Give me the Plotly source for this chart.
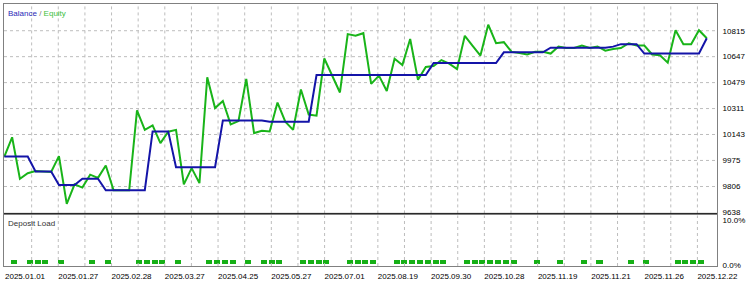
import plotly.graph_objects as go

# ---- data ----
equity = [10000, 10125, 9856, 9892, 9906, 9904, 9900, 10003, 9694, 9820,
          9799, 9883, 9862, 9942, 9782, 9782, 9782, 10299, 10173, 10202,
          10087, 10161, 10173, 9820, 9925, 9828, 10514, 10314, 10360, 10209,
          10230, 10503, 10152, 10167, 10163, 10350, 10226, 10173, 10434, 10272,
          10265, 10635, 10522, 10415, 10793, 10782, 10799, 10471, 10524, 10425,
          10633, 10593, 10761, 10497, 10580, 10587, 10625, 10602, 10566, 10782,
          10717, 10654, 10854, 10734, 10741, 10678, 10671, 10661, 10678, 10678,
          10667, 10713, 10703, 10703, 10719, 10703, 10713, 10686, 10696, 10703,
          10734, 10719, 10719, 10661, 10656, 10608, 10818, 10728, 10728, 10818,
          10766]

balance = [10000, 10000, 10000, 10000, 9904, 9904, 9904, 9816, 9816, 9816,
           9856, 9856, 9856, 9782, 9782, 9782, 9782, 9782, 9782, 10163,
           10163, 10163, 9931, 9931, 9931, 9931, 9931, 9931, 10234, 10234,
           10234, 10234, 10234, 10234, 10226, 10226, 10226, 10226, 10226, 10226,
           10528, 10528, 10528, 10528, 10528, 10528, 10528, 10528, 10528, 10528,
           10528, 10528, 10528, 10528, 10528, 10606, 10606, 10606, 10606, 10606,
           10606, 10606, 10606, 10606, 10675, 10675, 10675, 10675, 10675, 10675,
           10705, 10705, 10705, 10705, 10705, 10705, 10705, 10705, 10712, 10728,
           10728, 10728, 10667, 10667, 10667, 10667, 10667, 10667, 10667, 10667,
           10766]

load_deals = [1, 3, 4, 5, 7, 11, 13, 17, 18, 19, 20, 22, 26, 27, 28, 29, 31,
              33, 34, 35, 38, 39, 40, 41, 44, 45, 46, 47, 50, 51, 52, 53, 54,
              55, 56, 59, 60, 61, 62, 63, 64, 65, 68, 71, 74, 76, 80, 82, 86,
              87, 88, 89]
load_pct = [0.9] * len(load_deals)

date_labels = ["2025.01.01", "2025.01.27", "2025.02.28", "2025.03.27",
               "2025.04.25", "2025.05.27", "2025.07.01", "2025.08.19",
               "2025.09.30", "2025.10.28", "2025.11.19", "2025.11.21",
               "2025.11.26", "2025.12.22"]

y_ticks = [9638, 9806, 9975, 10143, 10311, 10479, 10647, 10815]
load_ticks = [0, 10]
load_tick_text = ["0.0%", "10.0%"]

# ---- styling / layout ----
BLUE = "#1414a8"
GREEN = "#19b419"
GRID = "#bdbdbd"
FONT = "Liberation Sans"
X_RANGE = [-0.04, 91.31]
Y_RANGE = [9632, 10988]
L_RANGE = [-0.1, 11.07]

deals = list(range(len(equity)))
grid0, grid_step = 0.09, 3.412
n_grid = 2 * len(date_labels) - 1
grid_vals = [grid0 + grid_step * k for k in range(n_grid)]
grid_text = [date_labels[k // 2] if k % 2 == 0 else "" for k in range(n_grid)]


def vgrid(y0, y1):
    xs, ys = [], []
    for gv in grid_vals[1:]:
        xs += [gv, gv, None]
        ys += [y0, y1, None]
    return xs, ys


fig = go.Figure()
# dashed background grid (drawn first so it stays beneath the data)
gx, gy = vgrid(*Y_RANGE)
hx, hy = [], []
for yv in y_ticks[1:]:
    hx += [X_RANGE[0], X_RANGE[1], None]
    hy += [yv, yv, None]
fig.add_trace(go.Scatter(x=gx + hx, y=gy + hy, mode="lines",
                         line=dict(color=GRID, width=1, dash="3px,3px"),
                         xaxis="x", yaxis="y", hoverinfo="skip"))
dx, dy = vgrid(*L_RANGE)
fig.add_trace(go.Scatter(x=dx, y=dy, mode="lines",
                         line=dict(color=GRID, width=1, dash="3px,3px"),
                         xaxis="x2", yaxis="y2", hoverinfo="skip"))

fig.add_trace(go.Scatter(x=deals, y=equity, mode="lines",
                         line=dict(color=GREEN, width=2), xaxis="x", yaxis="y",
                         hoverinfo="skip"))
fig.add_trace(go.Scatter(x=deals, y=balance, mode="lines",
                         line=dict(color=BLUE, width=2), xaxis="x", yaxis="y",
                         hoverinfo="skip"))
fig.add_trace(go.Bar(x=load_deals, y=load_pct, base=0.3, width=0.77, offset=-0.13,
                     marker=dict(color="#16b016", line=dict(width=0)),
                     xaxis="x2", yaxis="y2", hoverinfo="skip"))

main_bottom = (272 - 218) / 269
dep_top = (272 - 220) / 269

xcommon = dict(range=X_RANGE, tickmode="array", tickvals=grid_vals,
               ticktext=grid_text, showgrid=False,
               zeroline=False, ticks="", showline=True, mirror=True,
               linecolor="#808080", linewidth=1, fixedrange=True)

fig.update_layout(
    width=750, height=284,
    margin=dict(l=3, r=33, t=3, b=12),
    paper_bgcolor="white", plot_bgcolor="white",
    showlegend=False, bargap=0,
    font=dict(family=FONT, size=8, color="#000000"),
    xaxis=dict(xcommon, domain=[0, 1], anchor="y", showticklabels=False),
    xaxis2=dict(xcommon, domain=[0, 1], anchor="y2",
                showticklabels=True,
                ticklabelshift=20, ticklabelstandoff=2,
                tickfont=dict(family=FONT, size=8, color="#000000")),
    yaxis=dict(domain=[main_bottom, 1], range=Y_RANGE, side="right",
               anchor="x", tickmode="array", tickvals=y_ticks, tickformat="d",
               showgrid=False, zeroline=False, ticks="", ticklabelstandoff=3,
               showline=True, mirror=True, linecolor="#808080", linewidth=1,
               tickfont=dict(family=FONT, size=8, color="#000000"), fixedrange=True),
    yaxis2=dict(domain=[0, dep_top], range=L_RANGE, side="right",
                anchor="x2", tickmode="array", tickvals=load_ticks,
                ticktext=load_tick_text, showgrid=False, zeroline=False,
                ticks="", ticklabelstandoff=3, showline=True, mirror=True,
                linecolor="#808080", linewidth=1,
                tickfont=dict(family=FONT, size=8, color="#000000"), fixedrange=True),
    shapes=[dict(type="line", xref="x domain", yref="y domain",
                 x0=0, x1=1, y0=0, y1=0, line=dict(color="#202020", width=1))],
    annotations=[
        dict(xref="x domain", yref="y domain", x=0, y=1, xanchor="left",
             yanchor="top", xshift=2, yshift=-3, showarrow=False,
             text="<span style='color:#2a2ab8'>Balance</span>"
                  "<span style='color:#7a7a7a'> / </span>"
                  "<span style='color:#3cc03c'>Equity</span>",
             font=dict(family=FONT, size=8)),
        dict(xref="x2 domain", yref="y2 domain", x=0, y=1, xanchor="left",
             yanchor="top", xshift=2, yshift=-2, showarrow=False,
             text="Deposit Load", font=dict(family=FONT, size=8, color="#333333")),
    ],
)

fig.write_html("out.html")
